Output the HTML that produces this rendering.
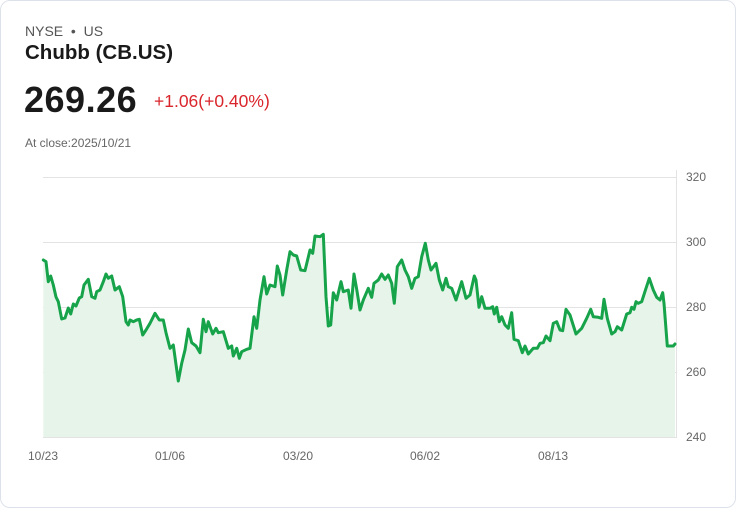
<!DOCTYPE html>
<html><head><meta charset="utf-8"><style>
html,body{margin:0;padding:0;background:#fff;}
body{width:736px;height:508px;position:relative;font-family:"Liberation Sans",sans-serif;overflow:hidden;}
.card{position:absolute;left:0;top:0;width:734px;height:506px;border:1px solid #dde2ea;border-radius:10px;}
.t{position:absolute;white-space:nowrap;}
</style></head><body>
<div class="card"></div>
<div class="t" style="left:25px;top:23px;font-size:14px;color:#555;">NYSE &nbsp;•&nbsp; US</div>
<div class="t" style="left:25px;top:41px;font-size:20.5px;font-weight:bold;color:#1a1a1a;">Chubb (CB.US)</div>
<div class="t" style="left:24px;top:79px;font-size:36px;font-weight:bold;color:#1a1a1a;letter-spacing:0.5px;">269.26</div>
<div class="t" style="left:154px;top:91px;font-size:17.5px;color:#d9262c;font-weight:500;">+1.06(+0.40%)</div>
<div class="t" style="left:25px;top:136px;font-size:12px;color:#666;">At close:2025/10/21</div>
<svg width="736" height="508" style="position:absolute;left:0;top:0" font-family="Liberation Sans, sans-serif">
<g stroke="#e3e3e3" stroke-width="1">
<line x1="43" y1="177.5" x2="676" y2="177.5"/>
<line x1="43" y1="242.5" x2="676" y2="242.5"/>
<line x1="43" y1="307.5" x2="676" y2="307.5"/>
<line x1="43" y1="372.5" x2="676" y2="372.5"/>
<line x1="43" y1="437.5" x2="676" y2="437.5"/>
<line x1="676.5" y1="170" x2="676.5" y2="438"/>
</g>
<g font-size="12" fill="#666">
<text x="686" y="181">320</text><text x="686" y="246">300</text><text x="686" y="311">280</text><text x="686" y="376">260</text><text x="686" y="441">240</text>
<text x="43" y="460" text-anchor="middle">10/23</text>
<text x="170" y="460" text-anchor="middle">01/06</text>
<text x="298" y="460" text-anchor="middle">03/20</text>
<text x="425" y="460" text-anchor="middle">06/02</text>
<text x="553" y="460" text-anchor="middle">08/13</text>
</g>
<defs><path id="ln" d="M43.3,260 L46,261.7 48.3,281.7 50.7,276 53.3,285 56,297 58.3,301.7 61.7,319 65,318 68.3,308 70.7,314 73.3,304 76,306 79.3,298 81.7,296.7 84,285 88.3,279.3 91.7,296.7 95,298.3 96.7,291.7 100,290 103.3,281.7 106,274 108.3,278.3 111.7,276 115,290 119.3,286.7 122.7,296.7 126,321.7 128.3,325 130,320 133.3,321.7 136.7,320 139.3,319.3 142.7,335 146,330 150,323.3 155,313.3 159.3,320 163.3,320 166,332.7 170,348.3 173.3,345 178.3,381 181.7,363.3 185,350 188.3,329 191.7,342.7 196,346 200,352.7 203.3,319.3 206,331.7 208.3,321.7 212.7,334 216,328.3 218.3,332.7 223.3,331.7 228.3,348.3 231.7,346 233.3,356 236.7,348.3 239.3,358.3 241.7,351.7 246.7,349.3 250,348.3 254,316.7 256.7,328.3 260,300 264,276.7 266.7,294 270,285 275,286.7 277.3,266 280,275 282.7,295 286.7,270 290,251.7 293.3,255 296.7,256 300.7,270 305,270.7 310,250 312.7,253.3 315,236 320,236.7 323.3,234.3 326,296.7 328.3,326 330.7,325 333.3,292.7 336.7,300 341,281.7 343.3,291.7 348.3,290 351,308.3 354,274 356.7,289.3 360,310 363.3,300 368.3,288.3 371.7,297.3 374,283.3 378.3,280 381.7,274 385,279.3 388.3,275 391.7,283.3 394.3,303.3 397.3,266.7 401.7,260 405,270 408.3,276.7 411.7,288.3 415,278.3 418.3,276.7 421.7,256.7 425.3,243.3 428.3,260 431,270 436,263.3 439.3,280 442.7,290 446,278.3 448.3,286.7 451.7,288.3 456,300 461.7,281.7 466,298.3 470,295 474.3,276 476,280 479,307.3 481.7,296.7 485,308.3 490,308.3 492.7,306.7 494.3,314 496.7,307.3 499.3,321.7 501.7,316.7 505,325 508.3,328.3 511.7,312.7 514,339.3 518.3,340.7 522.3,352.7 525,346 528.3,354 533.3,348.3 537.3,348.3 540,343.3 543.3,342.7 546,336 550,340.7 553.3,323.3 556.7,321.7 560,330 562.7,330.7 566,309.3 570,315 576,334 581.7,328.3 586.7,318.3 590.7,309.3 593.3,316.7 598.3,317.3 601.7,318.3 604,299.3 607.3,318.3 611.7,334 615,331.7 617.3,326.7 621.7,330 626.7,314 630,312.7 631.7,307.3 634,309.3 636,301.7 638.3,303.3 641.7,301.7 646,288.3 649.3,278.3 653.3,290 656.7,297.3 660,300 662.7,292.7 664,303.3 667.3,346 673.3,346 675,344"/></defs>
<path d="M43.3,260 L46,261.7 48.3,281.7 50.7,276 53.3,285 56,297 58.3,301.7 61.7,319 65,318 68.3,308 70.7,314 73.3,304 76,306 79.3,298 81.7,296.7 84,285 88.3,279.3 91.7,296.7 95,298.3 96.7,291.7 100,290 103.3,281.7 106,274 108.3,278.3 111.7,276 115,290 119.3,286.7 122.7,296.7 126,321.7 128.3,325 130,320 133.3,321.7 136.7,320 139.3,319.3 142.7,335 146,330 150,323.3 155,313.3 159.3,320 163.3,320 166,332.7 170,348.3 173.3,345 178.3,381 181.7,363.3 185,350 188.3,329 191.7,342.7 196,346 200,352.7 203.3,319.3 206,331.7 208.3,321.7 212.7,334 216,328.3 218.3,332.7 223.3,331.7 228.3,348.3 231.7,346 233.3,356 236.7,348.3 239.3,358.3 241.7,351.7 246.7,349.3 250,348.3 254,316.7 256.7,328.3 260,300 264,276.7 266.7,294 270,285 275,286.7 277.3,266 280,275 282.7,295 286.7,270 290,251.7 293.3,255 296.7,256 300.7,270 305,270.7 310,250 312.7,253.3 315,236 320,236.7 323.3,234.3 326,296.7 328.3,326 330.7,325 333.3,292.7 336.7,300 341,281.7 343.3,291.7 348.3,290 351,308.3 354,274 356.7,289.3 360,310 363.3,300 368.3,288.3 371.7,297.3 374,283.3 378.3,280 381.7,274 385,279.3 388.3,275 391.7,283.3 394.3,303.3 397.3,266.7 401.7,260 405,270 408.3,276.7 411.7,288.3 415,278.3 418.3,276.7 421.7,256.7 425.3,243.3 428.3,260 431,270 436,263.3 439.3,280 442.7,290 446,278.3 448.3,286.7 451.7,288.3 456,300 461.7,281.7 466,298.3 470,295 474.3,276 476,280 479,307.3 481.7,296.7 485,308.3 490,308.3 492.7,306.7 494.3,314 496.7,307.3 499.3,321.7 501.7,316.7 505,325 508.3,328.3 511.7,312.7 514,339.3 518.3,340.7 522.3,352.7 525,346 528.3,354 533.3,348.3 537.3,348.3 540,343.3 543.3,342.7 546,336 550,340.7 553.3,323.3 556.7,321.7 560,330 562.7,330.7 566,309.3 570,315 576,334 581.7,328.3 586.7,318.3 590.7,309.3 593.3,316.7 598.3,317.3 601.7,318.3 604,299.3 607.3,318.3 611.7,334 615,331.7 617.3,326.7 621.7,330 626.7,314 630,312.7 631.7,307.3 634,309.3 636,301.7 638.3,303.3 641.7,301.7 646,288.3 649.3,278.3 653.3,290 656.7,297.3 660,300 662.7,292.7 664,303.3 667.3,346 673.3,346 675,344 L675,437 L43.3,437 Z" fill="#e6f4ea" stroke="none"/>
<use href="#ln" fill="none" stroke="#16a34a" stroke-width="3" stroke-linejoin="round" stroke-linecap="round"/>
</svg>
</body></html>
